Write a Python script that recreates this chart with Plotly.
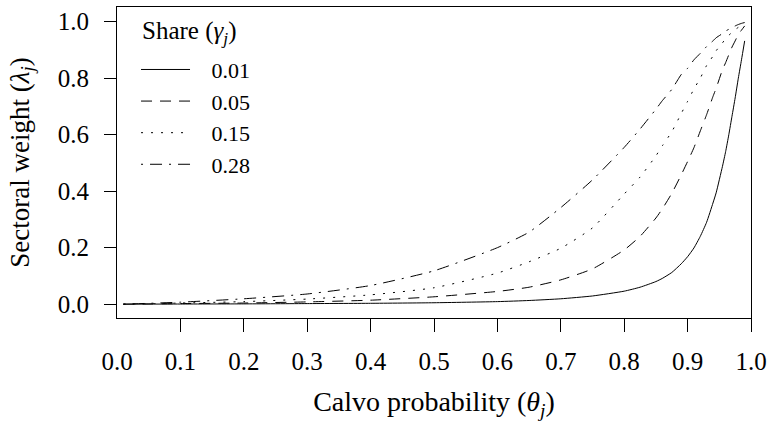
import plotly.graph_objects as go

# ---- data ----
theta = [0.01, 0.1, 0.2, 0.3, 0.4, 0.5, 0.6, 0.65, 0.7, 0.75, 0.8, 0.825, 0.85, 0.86,
         0.875, 0.89, 0.9, 0.91, 0.92, 0.93, 0.94, 0.945, 0.955, 0.96, 0.965, 0.97,
         0.975, 0.98, 0.985, 0.99]
share_labels = ["0.01", "0.05", "0.15", "0.28"]
weight_001 = [0.0, 0.0005, 0.001, 0.002, 0.003, 0.005, 0.009, 0.013, 0.019, 0.029, 0.046,
              0.060, 0.080, 0.091, 0.112, 0.143, 0.168, 0.199, 0.240, 0.290, 0.358, 0.394,
              0.488, 0.540, 0.600, 0.665, 0.730, 0.800, 0.865, 0.932]
weight_005 = [0.0, 0.002, 0.004, 0.008, 0.014, 0.026, 0.045, 0.060, 0.086, 0.125, 0.192,
              0.240, 0.305, 0.337, 0.392, 0.458, 0.505, 0.554, 0.613, 0.671, 0.735, 0.764,
              0.830, 0.855, 0.883, 0.910, 0.932, 0.955, 0.970, 0.985]
weight_015 = [0.0, 0.004, 0.009, 0.018, 0.033, 0.058, 0.110, 0.150, 0.198, 0.270, 0.390,
              0.450, 0.525, 0.560, 0.610, 0.675, 0.718, 0.762, 0.800, 0.845, 0.878, 0.897,
              0.925, 0.940, 0.952, 0.962, 0.972, 0.980, 0.988, 0.994]
weight_028 = [0.0, 0.007, 0.019, 0.036, 0.066, 0.118, 0.200, 0.255, 0.342, 0.440, 0.555,
              0.620, 0.690, 0.720, 0.760, 0.813, 0.835, 0.865, 0.888, 0.912, 0.932, 0.943,
              0.958, 0.967, 0.973, 0.978, 0.985, 0.990, 0.994, 0.997]
x_ticks = [0.0, 0.1, 0.2, 0.3, 0.4, 0.5, 0.6, 0.7, 0.8, 0.9, 1.0]
y_ticks = [0.0, 0.2, 0.4, 0.6, 0.8, 1.0]
legend_title = "Share (<i>γ<sub>j</sub></i>)"

series = [weight_001, weight_005, weight_015, weight_028]
dashes = ["solid", "11px,8px", "2px,8px", "2px,7px,12px,7px"]

FONT = "Liberation Serif"
PAD = "\u00a0\u00a0\u00a0"

fig = go.Figure()
for lab, vals, d in zip(share_labels, series, dashes):
    fig.add_trace(go.Scatter(
        x=theta, y=vals, mode="lines", name=PAD + lab, legendgroup=lab,
        line=dict(color="black", width=1, dash=d, shape="spline", smoothing=0.5),
    ))
# invisible trace to carry the secondary x axis (label for 0.0 without a tick)
fig.add_trace(go.Scatter(x=[], y=[], xaxis="x2", showlegend=False, hoverinfo="skip"))

tickfont = dict(family=FONT, size=25, color="black")
fig.update_layout(
    width=773, height=421,
    margin=dict(l=117, r=20, t=6, b=103),
    paper_bgcolor="white", plot_bgcolor="white",
    font=dict(family=FONT, color="black"),
    showlegend=True,
    legend=dict(
        x=0.03, y=0.866, xanchor="left", yanchor="top",
        bgcolor="rgba(0,0,0,0)", borderwidth=0,
        font=dict(family=FONT, size=22, color="black"),
        itemwidth=49, tracegroupgap=0,
    ),
    annotations=[dict(
        text=legend_title, xref="paper", yref="paper", x=0.036, y=0.917,
        xanchor="left", yanchor="middle", showarrow=False,
        font=dict(family=FONT, size=25, color="black"),
    )],
    xaxis=dict(
        range=[0, 1], tickvals=x_ticks[1:], ticktext=["%.1f" % v for v in x_ticks[1:]],
        ticks="outside", ticklen=13, tickwidth=1, tickcolor="black",
        showline=True, mirror=True, linecolor="black", linewidth=1,
        showgrid=False, zeroline=False, tickfont=tickfont, ticklabelstandoff=8,
        title=dict(text="Calvo probability (<i>θ<sub>j</sub></i>)",
                   font=dict(family=FONT, size=28), standoff=18),
    ),
    xaxis2=dict(
        range=[0, 1], overlaying="x", anchor="y", side="bottom",
        tickvals=x_ticks[:1], ticktext=["%.1f" % v for v in x_ticks[:1]],
        ticks="outside", ticklen=13, tickcolor="rgba(0,0,0,0)",
        showline=False, showgrid=False, zeroline=False, tickfont=tickfont,
        ticklabelstandoff=8,
    ),
    yaxis=dict(
        range=[-0.049, 1.052], tickvals=y_ticks, ticktext=["%.1f" % v for v in y_ticks],
        ticks="outside", ticklen=12, tickwidth=1, tickcolor="black",
        showline=True, mirror=True, linecolor="black", linewidth=1,
        showgrid=False, zeroline=False, tickfont=tickfont, ticklabelstandoff=10,
        title=dict(text="Sectoral weight (<i>λ<sub>j</sub></i>)",
                   font=dict(family=FONT, size=27), standoff=20),
    ),
)

fig.write_html("out.html")
